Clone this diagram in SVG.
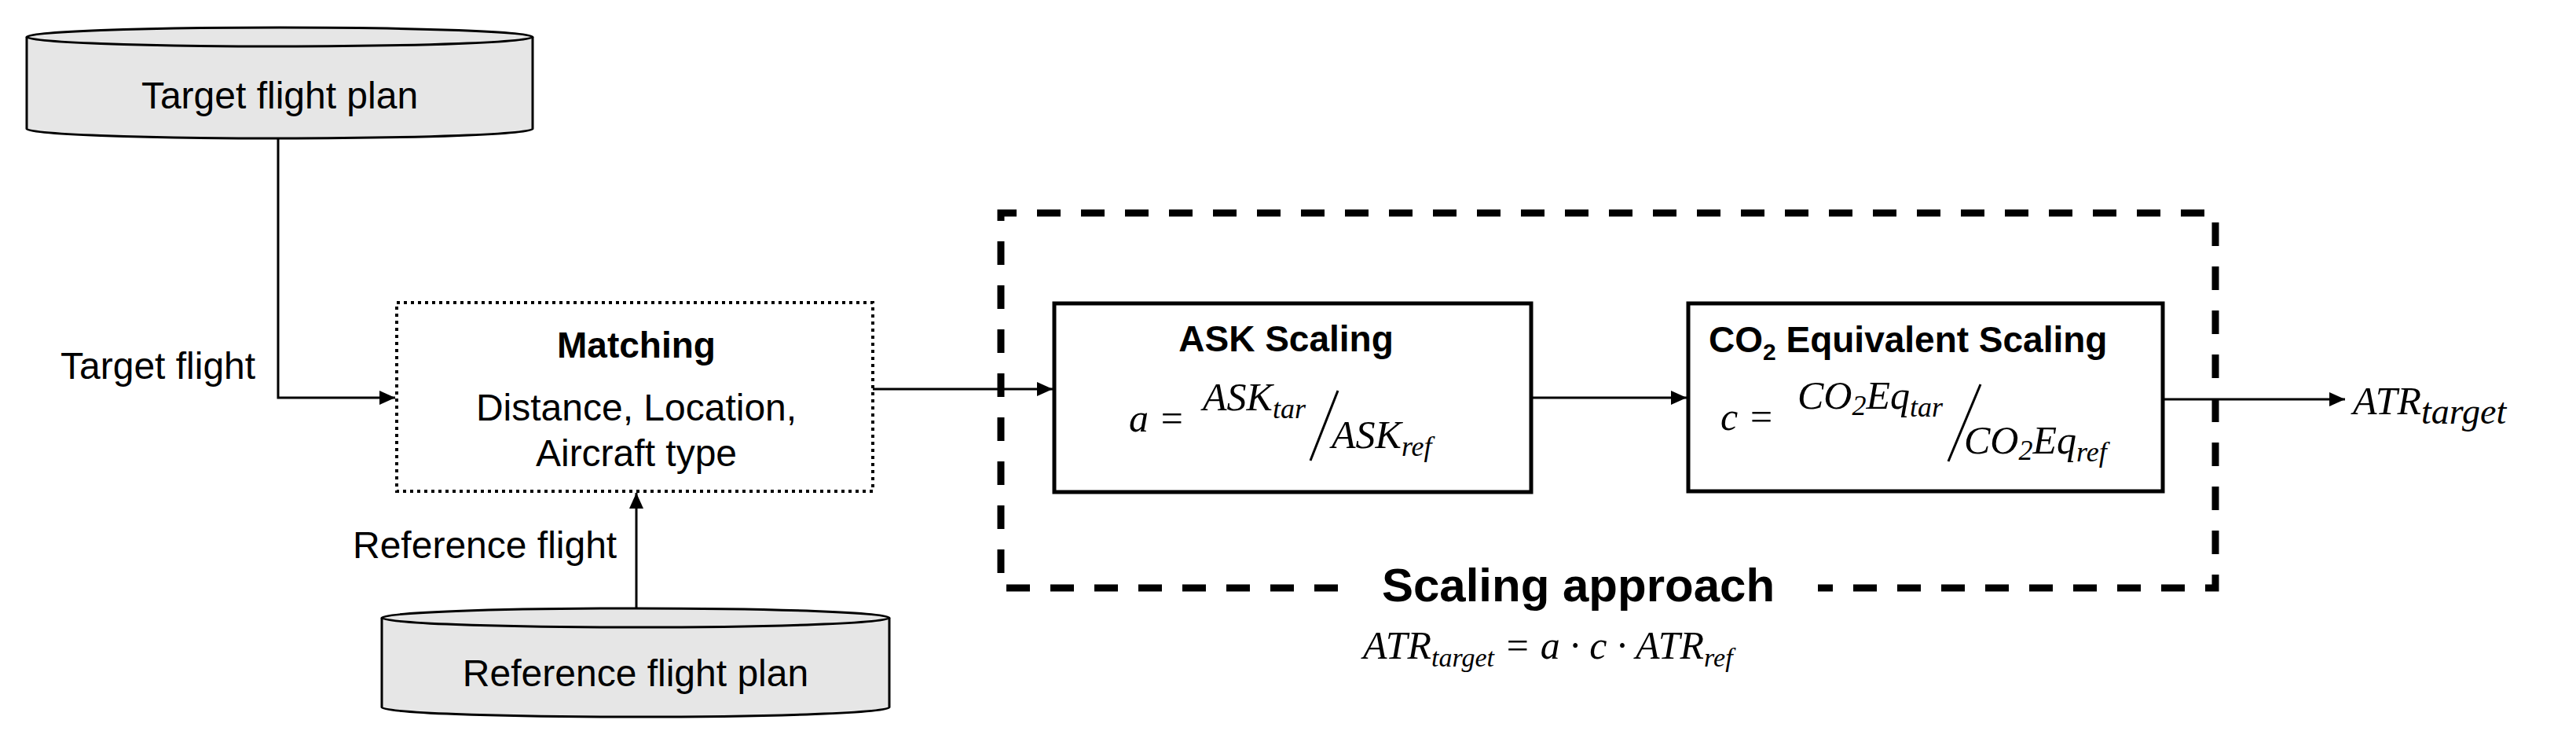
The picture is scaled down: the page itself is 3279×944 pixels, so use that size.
<svg xmlns="http://www.w3.org/2000/svg" width="3279" height="944" viewBox="0 0 3279 944">
<style>
.t{font-family:"Liberation Sans",Arial,sans-serif;font-size:48px;fill:#000}
.b{font-family:"Liberation Sans",Arial,sans-serif;font-weight:bold;fill:#000}
.m{font-family:"Liberation Serif","Times New Roman",serif;font-style:italic;font-size:50px;fill:#000}
.s{font-size:36px}
.cyl{fill:#e6e6e6;stroke:#000;stroke-width:3}
.ln{fill:none;stroke:#000;stroke-width:3}
</style>
<defs>
<marker id="ah" markerWidth="20" markerHeight="18" refX="20" refY="9" orient="auto" markerUnits="userSpaceOnUse" viewBox="0 0 20 18"><path d="M0,0 L20,9 L0,18 z" fill="#000"/></marker>
</defs>
<rect width="3279" height="944" fill="#fff"/>
<g id="connectors">
<path class="ln" d="M354,176 V506 H503" marker-end="url(#ah)"/>
<path class="ln" d="M810,774 V627" marker-end="url(#ah)"/>
<path class="ln" d="M1111,495 H1340" marker-end="url(#ah)"/>
<path class="ln" d="M1949,506 H2147" marker-end="url(#ah)"/>
<path class="ln" d="M2753,508 H2985" marker-end="url(#ah)"/>
<text class="t" x="77" y="482">Target flight</text>
<text class="t" x="449" y="710">Reference flight</text>
</g>
<g id="scaling-approach">
<path d="M1703,748 H1274 V271 H2820 V748 H2314" fill="none" stroke="#000" stroke-width="9" stroke-dasharray="30,26"/>
<text class="b" x="2009" y="765" font-size="60" text-anchor="middle">Scaling approach</text>
<text class="m" x="1735" y="838" font-size="46">ATR<tspan font-size="34" dy="10">target</tspan><tspan dy="-10"> = a · c · ATR</tspan><tspan font-size="34" dy="10">ref</tspan></text>
</g>
<g id="target-plan">
<path class="cyl" d="M34,47 V164 A322,12 0 0 0 678,164 V47"/>
<ellipse class="cyl" cx="356" cy="47" rx="322" ry="12"/>
<text class="t" x="356" y="138" text-anchor="middle">Target flight plan</text>
</g>
<g id="reference-plan">
<path class="cyl" d="M486,786 V900 A323,12 0 0 0 1132,900 V786"/>
<ellipse class="cyl" cx="809" cy="786" rx="323" ry="12"/>
<text class="t" x="809" y="873" text-anchor="middle">Reference flight plan</text>
</g>
<g id="matching">
<rect x="505" y="385" width="606" height="240" fill="#fff" stroke="#000" stroke-width="4" stroke-dasharray="4,5"/>
<text class="b" x="810" y="455" font-size="46" text-anchor="middle">Matching</text>
<text class="t" x="810" y="535" text-anchor="middle">Distance, Location,</text>
<text class="t" x="810" y="593" text-anchor="middle">Aircraft type</text>
</g>
<g id="ask">
<rect x="1342" y="386" width="607" height="240" fill="#fff" stroke="#000" stroke-width="5"/>
<text class="b" x="1637" y="447" font-size="46" text-anchor="middle">ASK Scaling</text>
<text class="m" x="1437" y="549">a =</text>
<text class="m" x="1531" y="522">ASK<tspan class="s" dy="10">tar</tspan></text>
<line x1="1703" y1="497" x2="1668" y2="586" stroke="#000" stroke-width="3"/>
<text class="m" x="1695" y="570">ASK<tspan class="s" dy="10">ref</tspan></text>
</g>
<g id="co2">
<rect x="2149" y="386" width="604" height="239" fill="#fff" stroke="#000" stroke-width="5"/>
<text class="b" x="2175" y="448" font-size="46">CO<tspan font-size="30" dy="10">2</tspan><tspan dy="-10"> Equivalent Scaling</tspan></text>
<text class="m" x="2190" y="547">c =</text>
<text class="m" x="2288" y="520">CO<tspan class="s" dy="8">2</tspan><tspan dy="-8">Eq</tspan><tspan class="s" dy="10">tar</tspan></text>
<line x1="2521" y1="489" x2="2480" y2="587" stroke="#000" stroke-width="3"/>
<text class="m" x="2500" y="577">CO<tspan class="s" dy="8">2</tspan><tspan dy="-8">Eq</tspan><tspan class="s" dy="10">ref</tspan></text>
</g>
<g id="output">
<text class="m" x="2995" y="527" font-size="62">ATR<tspan font-size="46" dy="12">target</tspan></text>
</g>
</svg>
